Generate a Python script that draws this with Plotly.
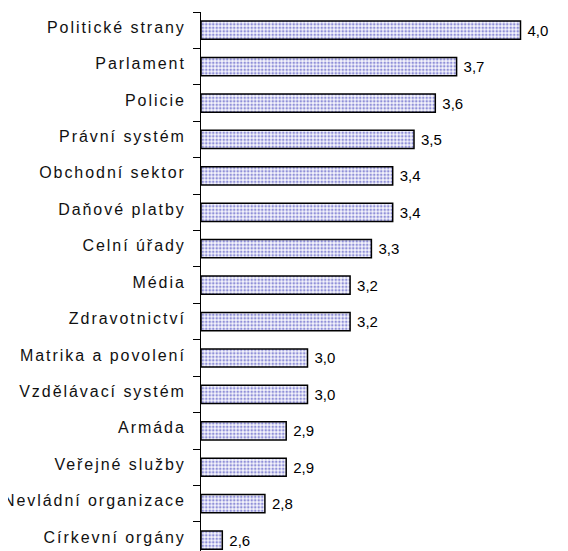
import plotly.graph_objects as go

categories = ["Politické strany", "Parlament", "Policie", "Právní systém", "Obchodní sektor",
              "Daňové platby", "Celní úřady", "Média", "Zdravotnictví", "Matrika a povolení",
              "Vzdělávací systém", "Armáda", "Veřejné služby", "Nevládní organizace", "Církevní orgány"]
values = [4.0, 3.7, 3.6, 3.5, 3.4, 3.4, 3.3, 3.2, 3.2, 3.0, 3.0, 2.9, 2.9, 2.8, 2.6]
axis_min = 2.5

fig = go.Figure()
fig.add_trace(go.Bar(
    y=categories,
    x=[v - axis_min for v in values],
    base=axis_min,
    orientation="h",
    marker=dict(
        color="white",
        line=dict(color="#000000", width=1.5),
        pattern=dict(shape=".", fgcolor="#2a2ab4", bgcolor="#f6f6fc", size=3.5, solidity=0.45),
    ),
    text=[f"{v:.1f}".replace(".", ",") for v in values],
    textposition="outside",
    textfont=dict(family="Liberation Sans, Arial, sans-serif", size=15, color="black"),
    cliponaxis=False,
    hoverinfo="skip",
))

fig.update_layout(
    width=568, height=551,
    margin=dict(l=193, r=8, t=4, b=8),
    paper_bgcolor="white", plot_bgcolor="white",
    bargap=0.5,
    showlegend=False,
    font=dict(family="Liberation Sans, Arial, sans-serif", size=16, color="black"),
    xaxis=dict(range=[axis_min, 4.223], visible=False, showgrid=False, zeroline=False),
    yaxis=dict(
        type="category",
        categoryorder="array", categoryarray=categories,
        range=[14.3, -0.5],
        showline=True, linecolor="black", linewidth=1,
        ticks="outside", tickson="boundaries", ticklen=7, tickcolor="black", tickwidth=1,
        ticklabelstandoff=11,
        showgrid=False, zeroline=False,
        tickfont=dict(size=16, color="#111111"),
    ),
)

post_js = """
var gd = document.getElementById('{plot_id}');
gd.querySelectorAll('.ytick text').forEach(function(t){
    t.style.letterSpacing = '1.95px';
    t.setAttribute('dy', '-3');
});
gd.querySelectorAll('.bartext').forEach(function(t){
    t.setAttribute('dx', '4');
});
"""

fig.write_html("out.html", post_script=post_js)
